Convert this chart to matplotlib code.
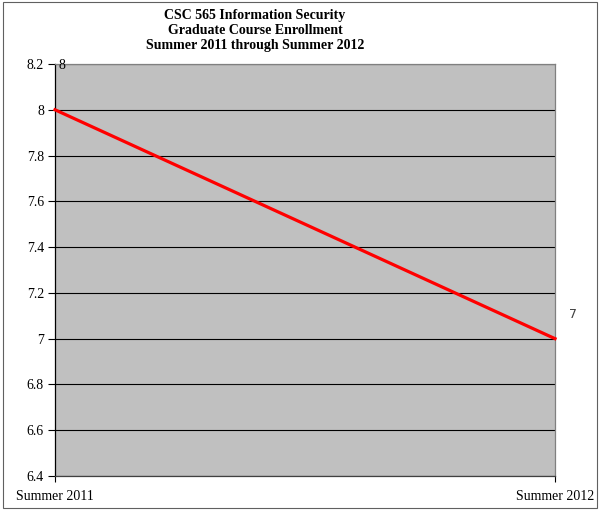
import numpy as np
import matplotlib.pyplot as plt
from matplotlib.patches import Rectangle
from matplotlib.transforms import offset_copy

terms = ['Summer 2011', 'Summer 2012']
enrollment = [8, 7]
yticks = [6.4, 6.6, 6.8, 7.0, 7.2, 7.4, 7.6, 7.8, 8.0, 8.2]
ytick_labels = ['6.4', '6.6', '6.8', '7', '7.2', '7.4', '7.6', '7.8', '8', '8.2']

plt.rcParams['font.family'] = 'Liberation Serif'

fig = plt.figure(figsize=(6.01, 5.12), dpi=100)
ax = fig.add_axes([55/601, 1 - 476/512, 500/601, 412/512])
ax.set_facecolor('#c0c0c0')

x = np.arange(len(terms))
ax.plot(x, enrollment, color='red', lw=2.3, zorder=3, clip_on=False)

ax.set_xlim(0, 1)
ax.set_ylim(6.4, 8.2)
ax.set_yticks(yticks)
ax.set_yticklabels(ytick_labels)
ax.set_xticks(x)
ax.set_xticklabels(terms)
ax.tick_params(axis='y', direction='out', length=5, width=0.8, labelsize=10, pad=3)
ax.tick_params(axis='x', direction='out', length=4, width=0.8, labelsize=10, pad=6)
ax.grid(axis='y', color='black', lw=0.8)
ax.set_axisbelow(True)

ax.spines['left'].set_color('black')
ax.spines['bottom'].set_color('#404040')
ax.spines['top'].set_color('#808080')
ax.spines['right'].set_color('#808080')
for s in ax.spines.values():
    s.set_linewidth(0.9)

# data labels
t8 = offset_copy(ax.transData, fig=fig, x=7, y=44, units='dots')
ax.text(x[0], enrollment[0], '8', transform=t8, ha='center', va='center', fontsize=10)
t7 = offset_copy(ax.transData, fig=fig, x=18, y=24, units='dots')
ax.text(x[1], enrollment[1], '7', transform=t7, ha='center', va='center',
        fontsize=9, family='DejaVu Sans', color='#404040')

fig.text(255/601, 1 - 30/512,
         'CSC 565 Information Security\nGraduate Course Enrollment\nSummer 2011 through Summer 2012',
         ha='center', va='center', fontsize=10, fontweight='bold', linespacing=1.2)

fig.patches.append(Rectangle((3/601, 4/512), 594/601, 506/512, transform=fig.transFigure,
                             fill=False, edgecolor='#606060', lw=0.8))

fig.savefig('out.png', dpi=100)
